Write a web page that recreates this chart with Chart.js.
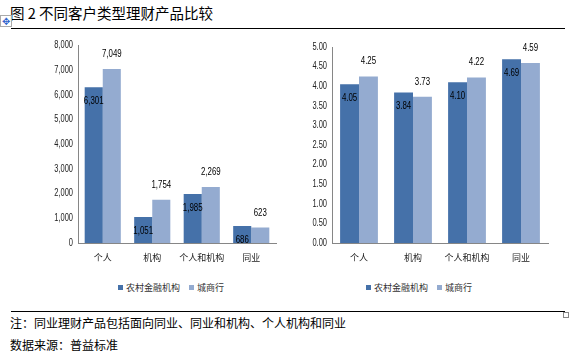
<!DOCTYPE html>
<html><head><meta charset="utf-8">
<script src="https://cdn.jsdelivr.net/npm/chart.js@4.4.0/dist/chart.umd.min.js"></script>
<style>
html,body{margin:0;padding:0;background:#fff;width:577px;height:359px;overflow:hidden;font-family:"Noto Sans CJK SC","Noto Sans",sans-serif;}
#title{position:absolute;left:10px;top:2px;font-size:14.5px;color:#000;white-space:nowrap;}
#topline{position:absolute;left:11px;top:28px;width:554px;height:1px;background:#000;}
#botline{position:absolute;left:11px;top:311px;width:554px;height:1px;background:#000;}
#sq{position:absolute;left:563px;top:312px;width:4px;height:4px;border:1px solid #888;}
#mv{position:absolute;left:0px;top:15px;width:10px;height:10px;border:1px solid #aaa;font-size:10px;line-height:10px;text-align:center;color:#36c;}
.note{position:absolute;left:10px;font-size:12px;line-height:14px;color:#000;white-space:nowrap;}
#c1{position:absolute;left:40px;top:35px;}
#c2{position:absolute;left:300px;top:35px;}
.lg{position:absolute;top:282px;font-size:9px;line-height:12px;color:#333;white-space:nowrap;}
.lg i{display:inline-block;width:5px;height:5px;margin-right:3px;vertical-align:1px;}
.lg span{margin-right:9px;}
</style></head>
<body>
<div id="title">图 2 不同客户类型理财产品比较</div>
<div id="topline"></div>
<div id="mv">✥</div>
<canvas id="c1" width="237" height="232"></canvas>
<canvas id="c2" width="266" height="232"></canvas>
<div class="lg" id="lg1" style="left:118px"></div>
<div class="lg" id="lg2" style="left:366px"></div>
<div id="botline"></div>
<div id="sq"></div>
<div class="note" style="top:316px">注：同业理财产品包括面向同业、同业和机构、个人机构和同业</div>
<div class="note" style="top:338px">数据来源：普益标准</div>
<script>
const categories = ["个人", "机构", "个人和机构", "同业"];
const seriesNames = ["农村金融机构", "城商行"];
const countRural = [6301, 1051, 1985, 686];
const countCity = [7049, 1754, 2269, 623];
const yieldRural = [4.05, 3.84, 4.10, 4.69];
const yieldCity = [4.25, 3.73, 4.22, 4.59];

const DARK = "#4571A9";
const LIGHT = "#94ABD0";
const FONT = '"Noto Sans CJK SC", "Noto Sans", sans-serif';
const NUMFONT = '"Liberation Sans", Arial, sans-serif';

function buildLegend(id, colors) {
  const el = document.getElementById(id);
  el.innerHTML = seriesNames.map((n, i) =>
    '<i style="background:' + colors[i] + '"></i><span>' + n + '</span>').join("");
}
buildLegend("lg1", [DARK, LIGHT]);
buildLegend("lg2", [DARK, LIGHT]);

function narrowText(ctx, text, x, y, align, sx) {
  ctx.save();
  ctx.translate(x, y);
  ctx.scale(sx, 1);
  ctx.textAlign = align;
  ctx.fillText(text, 0, 0);
  ctx.restore();
}

function labelPlugin(fmt) {
  return {
    id: "barLabels",
    afterDatasetsDraw(chart) {
      const ctx = chart.ctx;
      ctx.save();
      ctx.font = "10.5px " + NUMFONT;
      ctx.fillStyle = "#000";
      ctx.textBaseline = "middle";
      chart.data.datasets.forEach((ds, di) => {
        chart.getDatasetMeta(di).data.forEach((bar, i) => {
          const y = di === 0 ? bar.y + 14 : bar.y - 15;
          narrowText(ctx, fmt(ds.data[i]), bar.x, y, "center", 0.75);
        });
      });
      // y tick labels, condensed
      const ys = chart.scales.y;
      ctx.font = "10px " + NUMFONT;
      ctx.fillStyle = "#222";
      ys.ticks.forEach(t => {
        narrowText(ctx, fmt(t.value), ys.right - 5, ys.getPixelForValue(t.value), "right", 0.75);
      });
      ctx.restore();
    }
  };
}

function makeChart(id, d1, d2, max, step, fmt, pad, catPct, yWidth) {
  new Chart(document.getElementById(id), {
    type: "bar",
    data: {
      labels: categories,
      datasets: [
        { label: seriesNames[0], data: d1, backgroundColor: DARK, borderWidth: 0 },
        { label: seriesNames[1], data: d2, backgroundColor: LIGHT, borderWidth: 0 }
      ]
    },
    options: {
      responsive: false,
      animation: false,
      devicePixelRatio: 1,
      layout: { padding: pad },
      datasets: { bar: { categoryPercentage: catPct, barPercentage: 1.0 } },
      scales: {
        x: {
          grid: { display: false, drawTicks: false },
          border: { color: "#868686" },
          afterFit: s => { s.height = 24; },
          ticks: { font: { size: 9, family: FONT }, color: "#222", padding: 9, maxRotation: 0, autoSkip: false }
        },
        y: {
          min: 0, max: max,
          grid: { display: false, drawTicks: false },
          border: { color: "#868686" },
          afterFit: s => { s.width = yWidth; },
          ticks: { stepSize: step, font: { size: 9, family: NUMFONT }, color: "rgba(0,0,0,0)", padding: 5,
                   callback: v => fmt(v) }
        }
      },
      plugins: {
        legend: { display: false },
        tooltip: { enabled: false }
      }
    },
    plugins: [labelPlugin(fmt)]
  });
}

makeChart("c1", countRural, countCity, 8000, 1000, v => v.toLocaleString("en-US"), { left: 0, right: 1, top: 10, bottom: 0 }, 0.73, 38);
makeChart("c2", yieldRural, yieldCity, 5, 0.5, v => Number(v).toFixed(2), { left: 0, right: 18, top: 12, bottom: 0 }, 0.70, 32);
</script>
</body></html>
